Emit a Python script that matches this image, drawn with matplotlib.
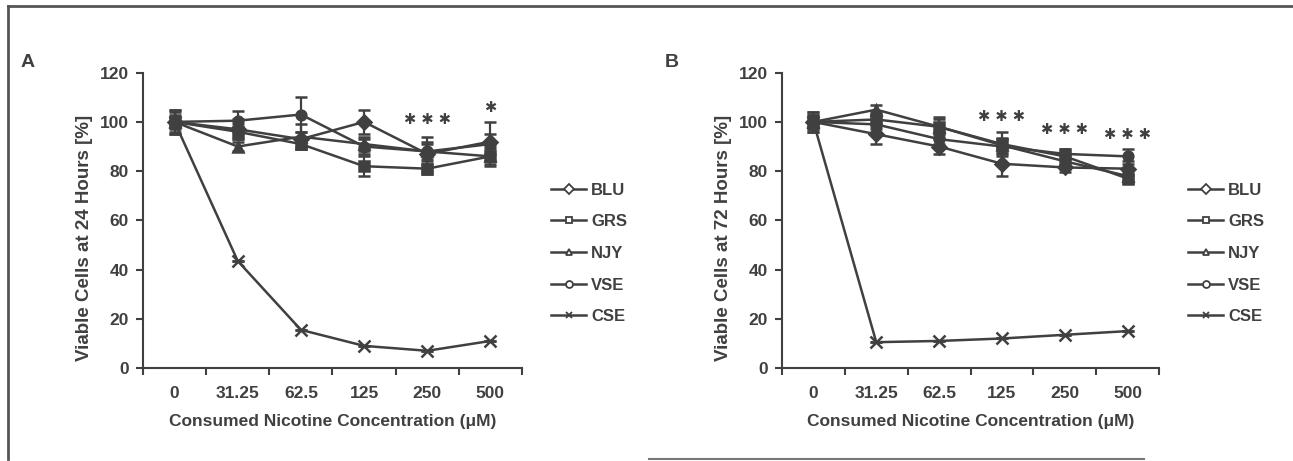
import matplotlib
matplotlib.use('Agg')
import matplotlib.pyplot as plt
from matplotlib.lines import Line2D

# ---------------- data ----------------
conc = ['0', '31.25', '62.5', '125', '250', '500']
names = ['BLU', 'GRS', 'NJY', 'VSE', 'CSE']
markers = ['D', 's', '^', 'o', 'x']

# panel A: 24 hours
a_blu = [100, 97, 93, 100, 87, 92]
a_grs = [100, 96, 91, 82, 81, 86]
a_njy = [100, 90, 94, 91, 88, 86]
a_vse = [100, 100.5, 103, 90, 88, 91]
a_cse = [100, 43.5, 15.5, 9, 7, 11]
a_blu_err = [5, 4, 3, 5, 7, 8]
a_grs_err = [4, 3, 2, 4, 2, 4]
a_njy_err = [3, 2, 5, 3, 3, 3]
a_vse_err = [5, 4, 7, 3, 4, 4]
a_cse_err = [0, 0, 0, 0, 0, 0]
a_star_x = [4, 5]
a_star_y = [101, 106]
a_star_n = [3, 1]

# panel B: 72 hours
b_blu = [100, 95, 90, 83, 81.5, 81]
b_grs = [100, 101, 98, 91, 86, 77]
b_njy = [100, 105, 98, 90.5, 84, 78]
b_vse = [100, 99, 93, 90, 87, 86]
b_cse = [100, 10.5, 11, 12, 13.5, 15]
b_blu_err = [4, 4, 3, 5, 2, 3]
b_grs_err = [4, 3, 4, 5, 3, 2]
b_njy_err = [3, 2, 3, 3, 3, 2]
b_vse_err = [3, 2, 2, 3, 2, 3]
b_cse_err = [0, 0, 0, 0, 0, 0]
b_star_x = [3, 4, 5]
b_star_y = [102, 97, 95]
b_star_n = [3, 3, 3]

INK = '#404040'
FONT = 'Liberation Sans'

plt.rcParams['font.family'] = FONT
plt.rcParams['font.weight'] = 'bold'
plt.rcParams['text.color'] = INK

fig = plt.figure(figsize=(12.93, 4.61), dpi=100)


def draw_panel(rect, series, errs, ylabel, star_x, star_y, star_n, ylab_x):
    ax = fig.add_axes(rect)
    x = list(range(len(conc)))
    for vals, err, m in zip(series, errs, markers):
        ax.errorbar(x, vals, yerr=err, color=INK, lw=1.8, marker=m,
                    ms=7 if m != 'x' else 8, mew=1.8, mfc=INK, mec=INK,
                    capsize=4, capthick=1.6, elinewidth=1.6, zorder=3)
    # significance stars
    for sx, sy, n in zip(star_x, star_y, star_n):
        ax.text(sx, sy, ' '.join(['✱'] * n), ha='center', va='center', fontsize=10.5,
                color=INK, family='DejaVu Sans')
    ax.set_xlim(-0.5, len(conc) - 0.5)
    ax.set_ylim(0, 120)
    ax.set_yticks(range(0, 121, 20))
    ax.set_xticks([i - 0.5 for i in range(len(conc) + 1)])
    ax.set_xticklabels([])
    ax.set_xticks(x, minor=True)
    ax.set_xticklabels(conc, minor=True)
    ax.tick_params(axis='x', which='major', length=5, width=1.5, color=INK, direction='out')
    ax.tick_params(axis='x', which='minor', length=0, pad=13, labelsize=12.5, labelcolor=INK)
    ax.tick_params(axis='y', length=5, width=1.5, color=INK, pad=5, labelsize=12.5,
                   labelcolor=INK)
    for s in ['top', 'right']:
        ax.spines[s].set_visible(False)
    for s in ['left', 'bottom']:
        ax.spines[s].set_color(INK)
        ax.spines[s].set_linewidth(1.5)
    ax.set_xlabel('Consumed Nicotine Concentration (μM)', fontsize=12.5,
                  fontweight='bold', color=INK, labelpad=9)
    ax.set_ylabel(ylabel, fontsize=13.5, fontweight='bold', color=INK)
    ax.yaxis.set_label_coords(ylab_x, 0.44)
    handles = [Line2D([], [], color=INK, lw=1.8, marker=m, ms=5, mfc='white',
                      mec=INK, mew=1.3) for m in markers]
    ax.legend(handles, names, loc='upper left', bbox_to_anchor=(1.077, 0.628),
              frameon=False, labelspacing=1.0, handlelength=2.1,
              handletextpad=0.3, borderpad=0, borderaxespad=0,
              prop={'family': FONT, 'weight': 'bold', 'size': 12})
    return ax


draw_panel([0.1106, 0.2017, 0.2931, 0.6406],
           [a_blu, a_grs, a_njy, a_vse, a_cse],
           [a_blu_err, a_grs_err, a_njy_err, a_vse_err, a_cse_err],
           'Viable Cells at 24 Hours [%]', a_star_x, a_star_y, a_star_n, -0.132)
draw_panel([0.6048, 0.2017, 0.2916, 0.6406],
           [b_blu, b_grs, b_njy, b_vse, b_cse],
           [b_blu_err, b_grs_err, b_njy_err, b_vse_err, b_cse_err],
           'Viable Cells at 72 Hours [%]', b_star_x, b_star_y, b_star_n, -0.133)

fig.text(28 / 1293, 1 - 62 / 461, 'A', fontsize=14, fontweight='bold', color=INK,
         ha='center', va='center')
fig.text(672 / 1293, 1 - 62 / 461, 'B', fontsize=14, fontweight='bold', color=INK,
         ha='center', va='center')

# frame lines around the figure
fig.add_artist(Line2D([8 / 1293, 1.0], [1 - 6 / 461, 1 - 6 / 461], color='#555555', lw=2))
fig.add_artist(Line2D([8 / 1293, 8 / 1293], [1 - 6 / 461, 1 - 459 / 461], color='#555555', lw=2))
fig.add_artist(Line2D([649 / 1293, 1144 / 1293], [1 - 459 / 461, 1 - 459 / 461],
                      color='#777777', lw=1.5))

fig.savefig('out.png', dpi=100)
